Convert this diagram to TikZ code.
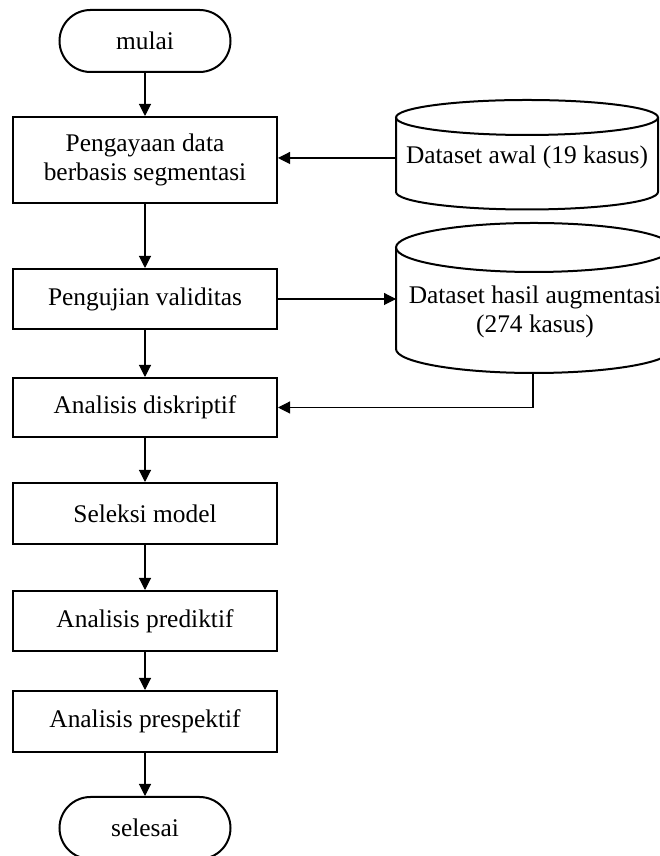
\documentclass[tikz,border=0pt]{standalone}
\usepackage{fontspec}
\setmainfont{Liberation Serif}
\usetikzlibrary{arrows.meta}
\begin{document}
\begin{tikzpicture}[x=1pt,y=1pt,
  every node/.style={font=\fontsize{25.4}{29}\selectfont, inner sep=0pt},
  procbox/.style={draw, line width=2pt, minimum width=264, align=center},
  term/.style={draw, line width=2pt, minimum width=171, minimum height=62, rounded corners=31},
  cyl/.style={line width=2pt},
  arr/.style={line width=1.1pt, -{Triangle[length=12pt,width=12pt]}},
  conn/.style={line width=1.1pt}]
\useasboundingbox (0,0) rectangle (660,856);
\clip (0,0) rectangle (660,856);
% terminals
\node[term] (start) at (145,815) {mulai};
\node[term] (end) at (145,28) {selesai};
% process boxes
\node[procbox, minimum height=86] (b1) at (145,696) {Pengayaan data\\berbasis segmentasi};
\node[procbox, minimum height=60] (b2) at (145,557) {Pengujian validitas};
\node[procbox, minimum height=59] (b3) at (145,448.5) {Analisis diskriptif};
\node[procbox, minimum height=61] (b4) at (145,342.5) {Seleksi model};
\node[procbox, minimum height=60] (b5) at (145,235) {Analisis prediktif};
\node[procbox, minimum height=61] (b6) at (145,134.5) {Analisis prespektif};
% cylinder 1
\draw[cyl] (396,738.5) -- (396,664) arc[start angle=180,end angle=360,x radius=131,y radius=17.5] -- (658,738.5);
\draw[cyl] (527,738.5) ellipse [x radius=131, y radius=17.5];
\node (d1) at (527,699) {Dataset awal (19 kasus)};
\coordinate (d1w) at (396,698);
% cylinder 2
\draw[cyl] (396,608.5) -- (396,507) arc[start angle=180,end angle=360,x radius=138,y radius=24] -- (672,608.5);
\draw[cyl] (534,608.5) ellipse [x radius=138, y radius=24.5];
\node[align=center] (d2) at (535,544.5) {Dataset hasil augmentasi\\(274 kasus)};
\coordinate (d2w) at (396,557);
\coordinate (d2s) at (533,483);
\coordinate (d2turn) at (533,448.5);
% connectors
\draw[arr] (start) -- (b1);
\draw[arr] (b1) -- (b2);
\draw[arr] (b2) -- (b3);
\draw[arr] (b3) -- (b4);
\draw[arr] (b4) -- (b5);
\draw[arr] (b5) -- (b6);
\draw[arr] (b6) -- (end);
\draw[arr] (d1w) -- (d1w -| b1.east);
\draw[arr] (b2.east) -- (d2w);
\draw[arr] (d2s) -- (d2turn) -- (b3.east);
\end{tikzpicture}
\end{document}
